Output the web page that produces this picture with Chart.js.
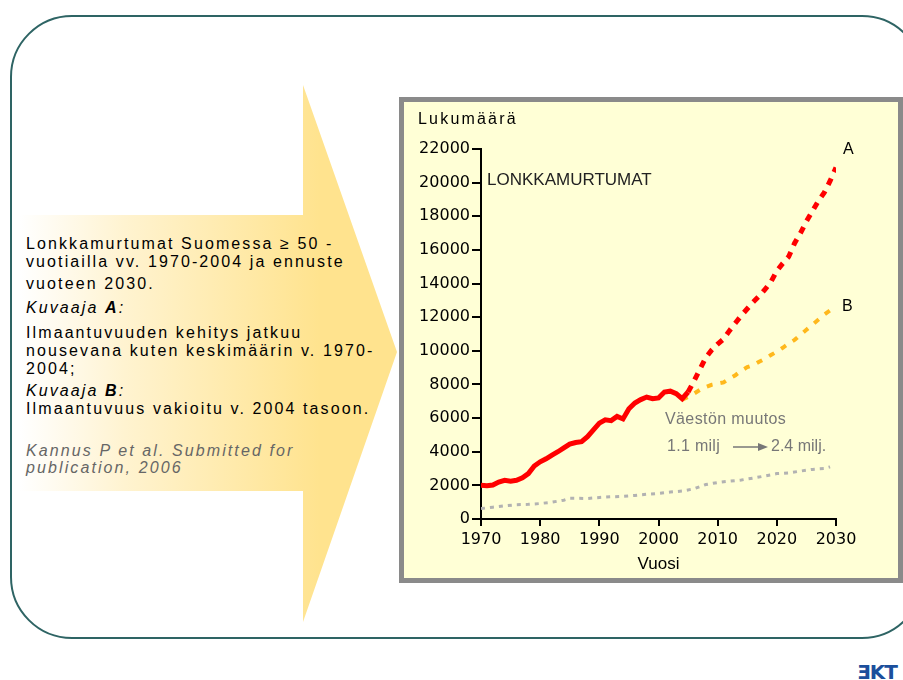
<!DOCTYPE html>
<html>
<head>
<meta charset="utf-8">
<script src="https://cdn.jsdelivr.net/npm/chart.js@4.4.1/dist/chart.umd.min.js"></script>
<style>
  html, body { margin:0; padding:0; background:#fff; }
  body { width:903px; height:680px; position:relative; overflow:hidden; font-family:"Liberation Sans", Arial, sans-serif; }
  #frame { position:absolute; left:10px; top:15px; width:910px; height:620px; border:2px solid #2e6464; border-radius:62px; }
  #arrow { position:absolute; left:0; top:0; }
  .lt { position:absolute; left:26px; font-size:16px; letter-spacing:2.1px; color:#000; white-space:nowrap; line-height:16px; }
  .it { font-style:italic; }
  .gr { color:#666; }
  #panel { position:absolute; left:399px; top:97px; width:504px; height:486px; box-sizing:border-box; border:5px solid #8a8a8a; background:#FFFFD6; }
  #chart { position:absolute; left:0; top:0; }
  .pt { position:absolute; white-space:nowrap; line-height:16px; font-size:16px; color:#000; }
  #logo { position:absolute; left:857px; top:660px; font:bold 20px "DejaVu Sans", sans-serif; color:#1b4f9c; letter-spacing:-1px; }
</style>
</head>
<body>
<svg id="arrow" width="903" height="680">
  <defs>
    <linearGradient id="g" gradientUnits="userSpaceOnUse" x1="20" y1="0" x2="320" y2="0">
      <stop offset="0" stop-color="#ffffff"/>
      <stop offset="0.35" stop-color="#fff3d0"/>
      <stop offset="1" stop-color="#ffe38e"/>
    </linearGradient>
  </defs>
  <polygon points="20,215 303,215 303,85 397,352 303,622 303,491 20,491" fill="url(#g)"/>
</svg>
<div id="frame"></div>

<div class="lt" style="top:236px">Lonkkamurtumat Suomessa ≥ 50 -</div>
<div class="lt" style="top:254px">vuotiailla vv. 1970-2004 ja ennuste</div>
<div class="lt" style="top:276px">vuoteen 2030.</div>
<div class="lt it" style="top:300px">Kuvaaja <b>A</b>:</div>
<div class="lt" style="top:325px">Ilmaantuvuuden kehitys jatkuu</div>
<div class="lt" style="top:343px">nousevana kuten keskimäärin v. 1970-</div>
<div class="lt" style="top:361px">2004;</div>
<div class="lt it" style="top:383px">Kuvaaja <b>B</b>:</div>
<div class="lt" style="top:401px">Ilmaantuvuus vakioitu v. 2004 tasoon.</div>
<div class="lt it gr" style="top:443px">Kannus P et al. Submitted for</div>
<div class="lt it gr" style="top:460px">publication, 2006</div>

<div id="panel">
  <canvas id="chart" width="494" height="476"></canvas>
  <div class="pt" style="left:14px; top:9px; letter-spacing:2.2px">Lukumäärä</div>
  <div class="pt" style="left:83px; top:70px; font-size:17px; color:#222">LONKKAMURTUMAT</div>
  <div class="pt" style="left:439px; top:39px">A</div>
  <div class="pt" style="left:438px; top:196px">B</div>
  <div class="pt" style="left:261px; top:309px; color:#777; letter-spacing:0.4px">Väestön muutos</div>
  <div class="pt" style="left:263px; top:336px; color:#777; letter-spacing:0.3px">1.1 milj</div>
  <svg style="position:absolute; left:328px; top:338px" width="40" height="14">
    <line x1="1" y1="7" x2="32" y2="7" stroke="#777" stroke-width="1.5"/>
    <polygon points="26,3 36,7 26,11" fill="#777"/>
  </svg>
  <div class="pt" style="left:367px; top:336px; color:#777">2.4 milj.</div>
</div>
<div id="logo">ƎKT</div>

<script>
// ---- data ----
const histYears = [1970,1971,1972,1973,1974,1975,1976,1977,1978,1979,1980,1981,1982,1983,1984,1985,1986,1987,1988,1989,1990,1991,1992,1993,1994,1995,1996,1997,1998,1999,2000,2001,2002,2003,2004,2005];
const histValues = [2000,1980,2020,2200,2300,2250,2300,2450,2700,3150,3400,3580,3800,4000,4230,4450,4550,4600,4900,5300,5700,5900,5850,6100,5950,6550,6900,7100,7250,7150,7200,7550,7600,7450,7150,7550];

const projAYears = [2005,2006,2007,2008,2009,2010,2011,2012,2013,2014,2015,2016,2017,2018,2019,2020,2021,2022,2023,2024,2025,2026,2027,2028,2029,2030];
const projAValues = [7550,8200,8900,9600,10050,10400,10700,11200,11650,12100,12500,12900,13250,13650,14100,14750,15200,15600,16400,17000,17700,18300,18900,19400,20100,20900];

const projBYears = [2004,2005,2006,2007,2008,2009,2010,2011,2012,2013,2014,2015,2016,2017,2018,2019,2020,2021,2022,2023,2024,2025,2026,2027,2028,2029];
const projBValues = [7100,7250,7450,7680,7850,7980,8050,8120,8350,8550,8820,9030,9150,9350,9530,9750,9950,10180,10430,10650,10950,11250,11550,11850,12150,12400];

const popYears = [1970,1972,1974,1976,1978,1980,1982,1984,1985,1986,1988,1990,1992,1994,1996,1998,2000,2002,2004,2006,2008,2010,2012,2014,2016,2018,2020,2022,2024,2026,2028,2029];
const popValues = [620,700,780,850,870,920,1000,1120,1230,1230,1220,1280,1320,1350,1400,1470,1520,1600,1660,1800,2050,2170,2250,2320,2430,2560,2700,2740,2850,2950,3000,3100];

const xTicks = [1970,1980,1990,2000,2010,2020,2030];
const yTicks = [0,2000,4000,6000,8000,10000,12000,14000,16000,18000,20000,22000];

function pts(xs, ys) { return xs.map((x, i) => ({ x: x, y: ys[i] })); }

const tickFont = { family: "DejaVu Sans", size: 16 };

new Chart(document.getElementById('chart'), {
  type: 'line',
  data: {
    datasets: [
      { data: pts(histYears, histValues), borderColor: '#ff0000', borderWidth: 5, pointRadius: 0, tension: 0, fill: false },
      { data: pts(projAYears, projAValues), borderColor: '#ff0000', borderWidth: 5, borderDash: [7, 7], pointRadius: 0, tension: 0, fill: false },
      { data: pts(projBYears, projBValues), borderColor: '#ffb81c', borderWidth: 4, borderDash: [6, 8], pointRadius: 0, tension: 0, fill: false },
      { data: pts(popYears, popValues), borderColor: '#b2b2b2', borderWidth: 3, borderDash: [4, 5], pointRadius: 0, tension: 0, fill: false }
    ]
  },
  options: {
    responsive: false,
    animation: false,
    devicePixelRatio: 1,
    layout: { padding: { left: 0, top: 47, right: 62, bottom: 0 } },
    plugins: { legend: { display: false }, tooltip: { enabled: false } },
    scales: {
      x: {
        type: 'linear', min: 1970, max: 2030,
        afterBuildTicks: (s) => { s.ticks = xTicks.map(v => ({ value: v })); },
        afterFit: (s) => { s.height = 59; },
        ticks: { font: tickFont, color: '#000', padding: 4, maxRotation: 0, autoSkip: false, callback: (v) => String(v) },
        grid: { display: true, drawOnChartArea: false, drawTicks: true, tickLength: 7, color: '#000', lineWidth: 2 },
        border: { display: true, color: '#000', width: 2 },
        title: { display: true, text: 'Vuosi', color: '#000', font: { family: "Liberation Sans", size: 17 }, padding: { top: 2, bottom: 3 } }
      },
      y: {
        type: 'linear', min: 0, max: 22000,
        afterBuildTicks: (s) => { s.ticks = yTicks.map(v => ({ value: v })); },
        afterFit: (s) => { s.width = 77; },
        ticks: { font: tickFont, color: '#000', padding: 2, autoSkip: false, callback: (v) => String(v) },
        grid: { display: true, drawOnChartArea: false, drawTicks: true, tickLength: 9, color: '#000', lineWidth: 2 },
        border: { display: true, color: '#000', width: 2 }
      }
    }
  }
});
</script>
</body>
</html>
